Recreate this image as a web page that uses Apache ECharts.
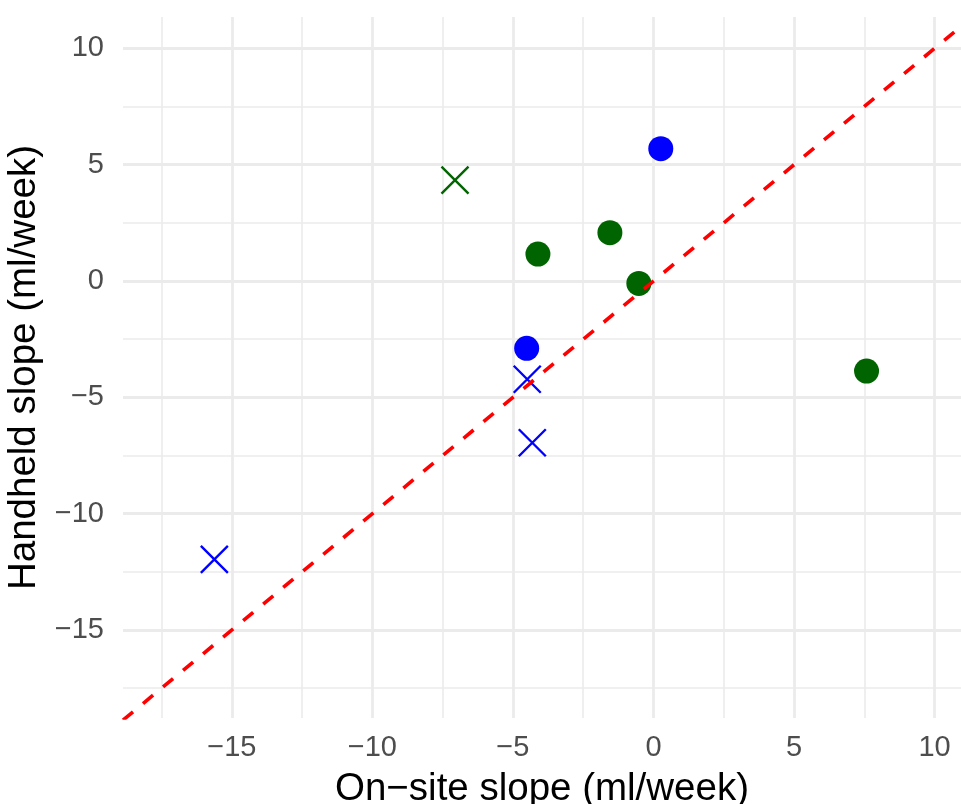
<!DOCTYPE html>
<html>
<head>
<meta charset="utf-8">
<script src="https://cdn.jsdelivr.net/npm/echarts@6/dist/echarts.min.js"></script>
<style>
html,body{margin:0;padding:0;background:#fff;}
#chart{width:961px;height:804px;}
</style>
</head>
<body>
<div id="chart"></div>
<script>
// Data
const blueCircles = [[0.26, 5.69], [-4.51, -2.89]];
const blueCrosses = [[-4.49, -4.22], [-4.31, -6.95], [-15.62, -11.96]];
const greenCircles = [[-1.55, 2.08], [-4.11, 1.16], [-0.52, -0.10], [7.58, -3.87]];
const greenCrosses = [[-7.06, 4.34]];
const xRange = [-18.87, 10.94];
const yRange = [-18.78, 11.35];
const identityLine = [[xRange[0], xRange[0]], [xRange[1], xRange[1]]];
const xTitle = 'On\u2212site slope (ml/week)';
const yTitle = 'Handheld slope (ml/week)';

const FONT = '"Liberation Sans", Arial, Helvetica, sans-serif';
const crossPath = 'path://M0,0L20,20M20,0L0,20';

function fmt(v) {
  const r = Math.round(v);
  if (Math.abs(v - r) > 1e-6 || r % 5 !== 0) return '';
  return String(r).replace('-', '\u2212');
}

function axisCommon(range, title, nameGap, labelMargin) {
  return {
    type: 'value',
    min: range[0],
    max: range[1],
    splitNumber: 5,
    name: title,
    nameLocation: 'middle',
    nameGap: nameGap,
    nameTextStyle: { fontFamily: FONT, fontSize: 38.5, color: '#000' },
    axisLine: { show: false },
    axisTick: { show: false },
    axisLabel: { formatter: fmt, fontFamily: FONT, fontSize: 29, color: '#4D4D4D', margin: labelMargin },
    splitLine: { show: true, showMinLine: false, showMaxLine: false, lineStyle: { color: '#EBEBEB', width: 2.8 } },
    minorTick: { show: false, splitNumber: 2 },
    minorSplitLine: { show: true, lineStyle: { color: '#EBEBEB', width: 1.6 } }
  };
}

const chart = echarts.init(document.getElementById('chart'), null, { renderer: 'canvas' });
chart.setOption({
  animation: false,
  backgroundColor: '#fff',
  grid: { left: 123, right: 0, top: 17, bottom: 86, containLabel: false, outerBoundsMode: 'none' },
  xAxis: axisCommon(xRange, xTitle, 52, 15),
  yAxis: axisCommon(yRange, yTitle, 75, 19),
  series: [
    { type: 'scatter', data: greenCircles, symbol: 'circle', symbolSize: 25,
      itemStyle: { color: '#006400', opacity: 1 }, z: 2 },
    { type: 'scatter', data: blueCircles, symbol: 'circle', symbolSize: 25,
      itemStyle: { color: '#0000FF', opacity: 1 }, z: 2 },
    { type: 'scatter', data: greenCrosses, symbol: crossPath, symbolSize: 27,
      itemStyle: { color: 'none', borderColor: '#006400', borderWidth: 2.4, opacity: 1 }, z: 2 },
    { type: 'scatter', data: blueCrosses, symbol: crossPath, symbolSize: 27,
      itemStyle: { color: 'none', borderColor: '#0000FF', borderWidth: 2.4, opacity: 1 }, z: 2 },
    { type: 'line', data: identityLine, showSymbol: false, symbol: 'none', clip: true,
      lineStyle: { color: '#FF0000', width: 3.6, type: [13, 13] }, z: 5, silent: true }
  ]
});
</script>
</body>
</html>
